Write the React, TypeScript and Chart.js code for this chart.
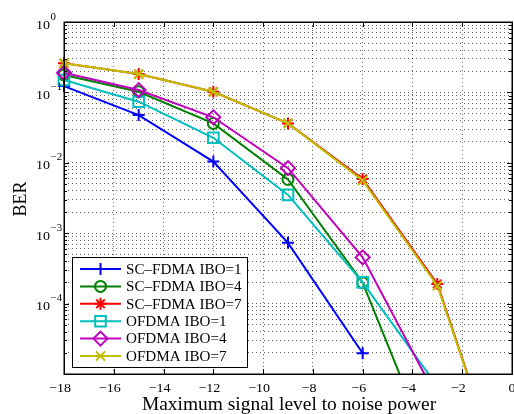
import { useEffect, useRef } from 'react';
import { Chart, registerables } from 'chart.js';

Chart.register(...registerables);

// Maximum signal level to noise power (x positions of the simulated points)
const snrLevels = [-18, -15, -12, -9, -6, -3, 0];

// Bit error rates per scheme / input back-off
const berScFdmaIbo1 = [0.123, 0.0477, 0.0104, 7.3e-4, 1.97e-5, null, null];
const berScFdmaIbo4 = [0.177, 0.102, 0.0363, 0.0058, 1.98e-4, 4.7e-7, null];
const berScFdmaIbo7 = [0.259, 0.182, 0.102, 0.0363, 0.0059, 1.9e-4, 1.3e-7];
const berOfdmaIbo1 = [0.15, 0.0738, 0.0227, 0.0035, 2.0e-4, 6.7e-6, null];
const berOfdmaIbo4 = [0.19, 0.108, 0.0443, 0.0084, 4.54e-4, 4.5e-6, null];
const berOfdmaIbo7 = [0.259, 0.182, 0.102, 0.0363, 0.0056, 1.8e-4, 1.3e-7];

const seriesNames = [
  'SC\u2013FDMA IBO=1',
  'SC\u2013FDMA IBO=4',
  'SC\u2013FDMA IBO=7',
  'OFDMA IBO=1',
  'OFDMA IBO=4',
  'OFDMA IBO=7',
];

// Axis ticks
const xTickValues = [-18, -16, -14, -12, -10, -8, -6, -4, -2, 0];
const yDecadeExponents = [0, -1, -2, -3, -4];
const yMinExp = -5;
const yMaxExp = 0;

const SERIF = "'Liberation Serif', 'Times New Roman', serif";
const STRETCH = 1.08;

type Marker = 'cross' | 'circle' | 'star' | 'rect' | 'rectRot' | 'crossRot';

const seriesStyle: { color: string; marker: Marker; radius: number }[] = [
  { color: '#0000ff', marker: 'cross', radius: 6 },
  { color: '#008000', marker: 'circle', radius: 5.5 },
  { color: '#ff0000', marker: 'star', radius: 6 },
  { color: '#00bfbf', marker: 'rect', radius: 7.5 },
  { color: '#bf00bf', marker: 'rectRot', radius: 7 },
  { color: '#bfbf00', marker: 'crossRot', radius: 6.5 },
];

const seriesValues = [
  berScFdmaIbo1,
  berScFdmaIbo4,
  berScFdmaIbo7,
  berOfdmaIbo1,
  berOfdmaIbo4,
  berOfdmaIbo7,
];

function yGridValues(): number[] {
  const out: number[] = [];
  for (let e = yMinExp; e < yMaxExp; e++) {
    for (let m = 1; m <= 9; m++) out.push(m * Math.pow(10, e));
  }
  out.push(Math.pow(10, yMaxExp));
  return out;
}

function drawText(
  ctx: CanvasRenderingContext2D,
  text: string,
  x: number,
  y: number,
  align: 'left' | 'center' | 'right',
  font: string,
) {
  ctx.save();
  ctx.font = font;
  const w = ctx.measureText(text).width * STRETCH;
  const left = align === 'left' ? x : align === 'center' ? x - w / 2 : x - w;
  ctx.translate(left, y);
  ctx.scale(STRETCH, 1);
  ctx.textAlign = 'left';
  ctx.textBaseline = 'alphabetic';
  ctx.fillStyle = '#000';
  ctx.fillText(text, 0, 0);
  ctx.restore();
  return w;
}

function drawMarker(ctx: CanvasRenderingContext2D, marker: Marker, x: number, y: number, r: number) {
  ctx.beginPath();
  const d = r * Math.SQRT1_2;
  switch (marker) {
    case 'cross':
      ctx.moveTo(x, y - r); ctx.lineTo(x, y + r);
      ctx.moveTo(x - r, y); ctx.lineTo(x + r, y);
      break;
    case 'crossRot':
      ctx.moveTo(x - d, y - d); ctx.lineTo(x + d, y + d);
      ctx.moveTo(x - d, y + d); ctx.lineTo(x + d, y - d);
      break;
    case 'star':
      ctx.moveTo(x, y - r); ctx.lineTo(x, y + r);
      ctx.moveTo(x - r, y); ctx.lineTo(x + r, y);
      ctx.moveTo(x - d, y - d); ctx.lineTo(x + d, y + d);
      ctx.moveTo(x - d, y + d); ctx.lineTo(x + d, y - d);
      break;
    case 'circle':
      ctx.arc(x, y, r, 0, Math.PI * 2);
      break;
    case 'rect':
      ctx.rect(x - d, y - d, 2 * d, 2 * d);
      break;
    case 'rectRot':
      ctx.moveTo(x, y - r); ctx.lineTo(x + r, y); ctx.lineTo(x, y + r); ctx.lineTo(x - r, y);
      ctx.closePath();
      break;
  }
  ctx.stroke();
}

// Box, inward tick marks, tick labels, axis titles and the legend
const decorPlugin = {
  id: 'matlabDecor',
  afterDraw(chart: any) {
    const ctx: CanvasRenderingContext2D = chart.ctx;
    const { left, right, top, bottom } = chart.chartArea;
    const xs = chart.scales.x;
    const ys = chart.scales.y;

    ctx.save();
    ctx.strokeStyle = '#000';
    ctx.lineWidth = 1;

    // inward tick marks
    ctx.beginPath();
    for (const v of xTickValues) {
      const px = Math.round(xs.getPixelForValue(v)) + 0.5;
      ctx.moveTo(px, bottom); ctx.lineTo(px, bottom - 5);
      ctx.moveTo(px, top); ctx.lineTo(px, top + 5);
    }
    for (const v of yGridValues()) {
      const py = Math.round(ys.getPixelForValue(v)) + 0.5;
      const major = Math.abs(Math.log10(v) - Math.round(Math.log10(v))) < 1e-9;
      const len = major ? 5 : 3;
      ctx.moveTo(left, py); ctx.lineTo(left + len, py);
      ctx.moveTo(right, py); ctx.lineTo(right - len, py);
    }
    ctx.stroke();

    // axes box
    ctx.lineWidth = 1.5;
    ctx.strokeRect(Math.round(left) + 0.25, Math.round(top) + 0.25, Math.round(right - left), Math.round(bottom - top));

    // x tick labels: digits centred on the tick, minus sign hanging left
    const tickFont = `13px ${SERIF}`;
    for (const v of xTickValues) {
      const px = xs.getPixelForValue(v);
      const digits = String(Math.abs(v));
      ctx.font = tickFont;
      const dw = ctx.measureText(digits).width * STRETCH;
      const rightEdge = px + dw / 2;
      drawText(ctx, (v < 0 ? '\u2212' : '') + digits, rightEdge, 392, 'right', tickFont);
    }

    // y tick labels: 10 with superscript exponent
    for (const e of yDecadeExponents) {
      const py = ys.getPixelForValue(Math.pow(10, e));
      const w = drawText(ctx, '10', 36, py + 6.5, 'left', tickFont);
      drawText(ctx, e < 0 ? '\u2212' + Math.abs(e) : String(e), 36 + w + 0.5, py - 2.5, 'left', `10px ${SERIF}`);
    }

    // axis titles
    drawText(ctx, 'Maximum signal level to noise power', (left + right) / 2 + 1, 409.5, 'center', `18px ${SERIF}`);
    ctx.save();
    ctx.translate(26, (top + bottom) / 2 + 1);
    ctx.rotate(-Math.PI / 2);
    ctx.font = `18px ${SERIF}`;
    ctx.textAlign = 'center';
    ctx.textBaseline = 'alphabetic';
    ctx.fillStyle = '#000';
    ctx.fillText('BER', 0, 0);
    ctx.restore();

    // legend
    const lx = 72.5, ly = 257.5, lw = 175, lh = 110;
    ctx.fillStyle = '#fff';
    ctx.fillRect(lx, ly, lw, lh);
    ctx.lineWidth = 1;
    ctx.strokeStyle = '#000';
    ctx.strokeRect(lx, ly, lw, lh);
    const rowTop = 269;
    const rowGap = 17.4;
    seriesNames.forEach((name, i) => {
      const cy = rowTop + i * rowGap;
      const st = seriesStyle[i];
      ctx.strokeStyle = st.color;
      ctx.lineWidth = 2;
      ctx.beginPath();
      ctx.moveTo(80, cy); ctx.lineTo(121, cy);
      ctx.stroke();
      drawMarker(ctx, st.marker, 100.5, cy, st.radius);
      drawText(ctx, name, 126, cy + 4.8, 'left', `14px ${SERIF}`);
    });

    ctx.restore();
  },
};

export default function App() {
  const canvasRef = useRef<HTMLCanvasElement | null>(null);

  useEffect(() => {
    const canvas = canvasRef.current;
    if (!canvas) return;

    const gridValues = yGridValues();
    const n = seriesValues.length;

    const datasets = seriesValues.map((vals, i) => {
      const st = seriesStyle[i];
      return {
        label: seriesNames[i],
        data: snrLevels.map((x, k) => ({ x, y: vals[k] })),
        borderColor: st.color,
        backgroundColor: 'rgba(0,0,0,0)',
        borderWidth: 2,
        pointStyle: st.marker,
        pointRadius: st.radius,
        pointBorderColor: st.color,
        pointBackgroundColor: 'rgba(0,0,0,0)',
        pointBorderWidth: 2,
        tension: 0,
        spanGaps: false,
        // later series drawn on top
        order: n - 1 - i,
        clip: { left: 12, top: 12, right: 12, bottom: 0 },
      };
    });

    const chart = new Chart(canvas, {
      type: 'line',
      data: { datasets } as any,
      options: {
        responsive: false,
        animation: false,
        devicePixelRatio: 1,
        layout: { autoPadding: false, padding: { top: 22, right: 2, left: 0, bottom: 0 } },
        plugins: {
          legend: { display: false },
          tooltip: { enabled: false },
        },
        scales: {
          x: {
            type: 'linear',
            min: -18,
            max: 0,
            ticks: { display: false, stepSize: 2 },
            afterBuildTicks: (s: any) => {
              s.ticks = xTickValues.map((value) => ({ value }));
            },
            grid: { color: 'rgba(0,0,0,0.6)', lineWidth: 1, drawTicks: false },
            border: { display: false, dash: [1, 3] },
            afterFit: (s: any) => {
              s.height = 40;
            },
          },
          y: {
            type: 'logarithmic',
            min: Math.pow(10, yMinExp),
            max: Math.pow(10, yMaxExp),
            ticks: { display: false },
            afterBuildTicks: (s: any) => {
              s.ticks = gridValues.map((value) => ({ value }));
            },
            grid: { color: 'rgba(0,0,0,0.6)', lineWidth: 1, drawTicks: false },
            border: { display: false, dash: [1, 3] },
            afterFit: (s: any) => {
              s.width = 64;
            },
          },
        },
      } as any,
      plugins: [decorPlugin],
    });

    return () => chart.destroy();
  }, []);

  return (
    <div style={{ position: 'fixed', left: 0, top: 0, width: 514, height: 414, background: '#fff' }}>
      <canvas ref={canvasRef} width={514} height={414} style={{ display: 'block' }} />
    </div>
  );
}
